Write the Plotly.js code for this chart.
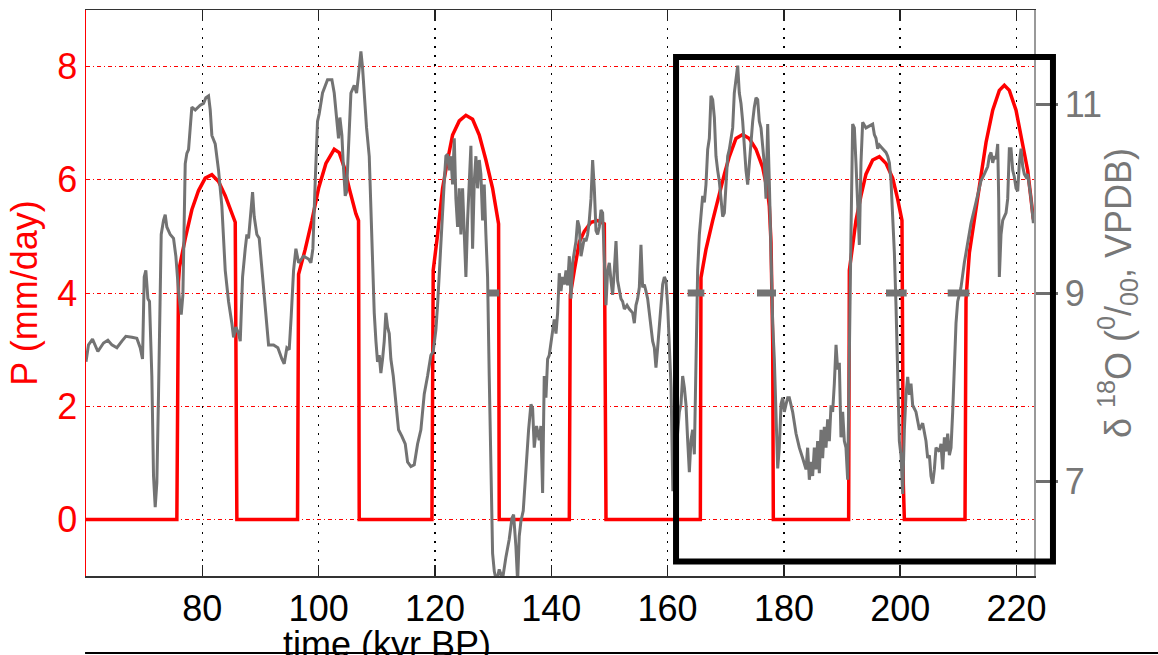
<!DOCTYPE html>
<html>
<head>
<meta charset="utf-8">
<script src="https://cdn.plot.ly/plotly-3.0.1.min.js"></script>
<style>html,body{margin:0;padding:0;background:#fff;}#chart{width:1158px;height:655px;}</style>
</head>
<body>
<div id="chart"></div>
<script>
// ---- tick values ----
const xTickVals = [80, 100, 120, 140, 160, 180, 200, 220];
const pTickVals = [0, 2, 4, 6, 8];
const dTickVals = [7, 9, 11];

// ---- precipitation P (mm/day), red, left axis ----
const pTime = [60, 75.62, 75.9, 76.08, 77.06, 78.2, 79.35, 80.5, 81.64, 82.79, 83.94, 85.08, 85.66, 85.94,
  96.37, 96.55, 97.69, 98.84, 99.99, 101.25, 102.68, 103.54, 104.4, 105.26, 106.4, 106.86, 106.98,
  119.48, 119.7, 120.45, 121.31, 122.17, 123.03, 124.18, 125.32, 126.47, 127.62, 128.76, 129.91, 130.94, 131.05,
  143.10, 143.27, 143.96, 144.82, 145.68, 146.83, 147.97, 149.12, 149.41,
  165.63, 165.74, 166.60, 167.75, 168.90, 169.76, 170.61, 171.76, 172.91, 174.05, 175.2, 176.35, 177.21, 177.49, 177.78, 178.07, 178.18,
  191.13, 191.25, 191.82, 192.39, 193.25, 194.11, 195.26, 196.41, 197.55, 198.70, 199.56, 200.13, 200.30, 200.53, 200.71,
  211.14, 211.31, 211.89, 212.75, 213.6, 214.75, 215.9, 217.04, 217.9, 218.76, 219.91, 221.06, 221.92, 222.49, 222.89];
const pValue = [0, 0, 4.2, 4.46, 4.96, 5.47, 5.81, 6.03, 6.09, 5.97, 5.72, 5.40, 5.25, 0,
  0, 4.33, 4.77, 5.28, 5.85, 6.29, 6.54, 6.48, 6.22, 5.85, 5.40, 5.28, 0,
  0, 4.40, 5.03, 5.85, 6.35, 6.79, 7.04, 7.14, 7.07, 6.79, 6.35, 5.85, 5.22, 0,
  0, 3.96, 4.40, 4.90, 5.09, 5.25, 5.28, 5.22, 0,
  0, 4.27, 4.77, 5.28, 5.78, 6.10, 6.41, 6.73, 6.80, 6.73, 6.54, 6.22, 5.78, 5.53, 4.90, 3.14, 0,
  0, 4.40, 4.90, 5.28, 5.72, 6.10, 6.35, 6.41, 6.29, 6.03, 5.66, 5.34, 5.28, 0.62, 0,
  0, 3.89, 4.71, 5.28, 5.91, 6.66, 7.23, 7.58, 7.67, 7.58, 7.23, 6.66, 6.16, 5.66, 5.3];

// ---- speleothem d18O (per mil, VPDB), grey, right axis ----
const dTime = [60.0, 60.43, 61.12, 62.04, 63.01, 63.76, 64.45, 65.31, 66.17, 66.85, 67.89, 68.74, 69.32, 69.72,
  70.01, 70.29, 70.64, 70.92, 71.32, 71.61, 71.90, 72.18, 72.47, 72.93, 73.33, 73.62, 73.90, 74.48, 75.05, 75.45,
  75.91, 76.37, 76.66, 76.89, 77.06, 77.34, 77.63, 77.92, 78.20, 78.78, 79.64, 80.21, 80.61, 81.07, 81.36, 81.64,
  82.22, 82.79, 83.36, 83.94, 84.51, 85.08, 85.37, 85.77, 86.23, 86.52, 86.92, 87.38, 87.66, 87.95, 88.35, 88.64,
  88.92, 89.38, 89.78, 90.24, 90.81, 91.39, 92.25, 92.99, 93.68, 94.08, 94.54, 94.94, 95.29, 95.69, 96.09, 96.55,
  97.41, 98.27, 98.67, 99.01, 99.41, 99.81,
  100.10, 100.67, 101.53, 102.28, 102.68, 103.08, 103.42, 103.65, 104.0, 104.23, 104.57, 104.80, 105.26, 105.55,
  106.12, 106.52, 106.86, 107.27, 107.55, 107.84, 108.24, 108.70, 108.99, 109.27, 109.56, 109.85, 110.13, 110.42,
  110.70, 110.99, 111.28, 111.56, 111.85, 112.14, 112.42, 112.83, 113.28, 113.74, 114.32, 114.89, 115.29, 115.86,
  116.44, 117.01, 117.58, 118.16, 118.73, 119.30, 119.70, 120.16, 120.45, 120.74, 121.02, 121.31, 121.60, 121.88,
  122.17, 122.46, 122.74, 123.03, 123.32, 123.60, 123.89, 124.18, 124.46, 124.75, 125.04, 125.32, 125.61, 125.90,
  126.18, 126.47, 126.76, 127.04, 127.33, 127.62, 127.90, 128.19, 128.47, 128.76, 129.05, 129.33, 129.62, 129.91,
  130.20, 130.60, 131.05, 131.63, 132.20, 132.77, 133.23, 133.52, 133.92, 134.21, 134.49, 134.78, 135.18, 135.64,
  136.10, 136.50, 136.79, 137.07, 137.47, 137.93, 138.22, 138.51, 138.79, 139.08, 139.37, 139.65, 139.94, 140.23,
  140.51, 140.81, 141.09, 141.38, 141.67, 141.95, 142.24, 142.53, 142.81, 143.10, 143.39, 143.67, 143.96, 144.25,
  144.53, 144.82, 145.11, 145.39, 145.68, 145.97, 146.25, 146.54, 146.83, 147.11, 147.40, 147.69, 147.97, 148.26,
  148.55, 148.83, 149.12, 149.41, 149.69, 149.98, 150.27, 150.55, 150.84, 151.13, 151.41, 151.70, 151.98, 152.27,
  152.56, 153.02, 153.42, 153.99, 154.28, 154.56, 154.85, 155.14, 155.42, 155.71, 156.00, 156.28, 156.57, 156.86,
  157.14, 157.43, 157.72, 158.00, 158.29, 158.58, 158.86, 159.15, 159.44, 159.72, 160.01, 160.30, 160.6, 160.9,
  161.4, 162.02, 162.30, 162.59, 162.88, 163.16, 163.45, 163.74, 164.02, 164.31, 164.60, 164.88, 165.17, 165.46,
  165.74, 166.03, 166.32, 166.60, 166.89, 167.18, 167.46, 167.75, 168.04, 168.32, 168.61, 168.90, 169.18, 169.47,
  169.76, 170.04, 170.33, 170.61, 170.90, 171.19, 171.47, 171.76, 172.05, 172.33, 172.62, 172.91, 173.19, 173.48,
  173.77, 174.05, 174.34, 174.63, 174.91, 175.20, 175.49, 175.77, 176.06, 176.35, 176.63, 176.92, 177.21, 177.49,
  177.78, 178.07, 178.35, 178.64, 178.93, 179.21, 179.50, 179.79, 180.07, 180.36, 180.65,
  180.93, 181.50, 182.08, 182.65, 183.22, 183.80, 184.08, 184.37, 184.66, 184.94, 185.23, 185.52, 185.80, 186.09,
  186.38, 186.66, 186.95, 187.24, 187.52, 187.81, 188.10, 188.38, 188.67, 188.96, 189.24, 189.53, 189.81, 190.10,
  190.39, 190.67, 190.96, 191.25, 191.53, 191.82, 192.11, 192.39, 192.68, 192.97, 193.25, 193.54, 194.11, 194.69,
  195.26, 195.55, 195.83, 196.12, 196.41, 196.98, 197.55, 197.84, 198.13, 198.41, 198.70, 198.99, 199.27, 199.56,
  199.85, 200.13, 200.42, 200.71, 200.99, 201.28, 201.57, 201.85, 202.14, 202.71, 203.29, 203.86, 204.43, 204.72,
  205.01, 205.29, 205.58, 205.87, 206.15, 206.73, 207.01, 207.30, 207.59, 207.87, 208.16, 208.45, 208.73, 209.02,
  209.31, 209.59, 209.88, 210.16, 210.45, 211.02, 211.60, 212.17, 212.75, 213.32, 213.89, 214.46, 215.04, 215.32,
  215.61, 215.90, 216.18, 216.47, 216.76, 216.93, 217.04, 217.33, 217.62, 217.90, 218.19, 218.48, 218.76, 219.05,
  219.34, 219.62, 219.91, 220.20, 220.48, 220.77, 221.06, 221.34, 221.63, 221.92, 222.20, 222.49, 222.89];
const dValue = [8.27, 8.45, 8.51, 8.38, 8.47, 8.50, 8.45, 8.42, 8.49, 8.54, 8.53, 8.52, 8.42, 8.30,
  9.17, 9.24, 8.94, 8.91, 8.12, 7.06, 6.73, 6.99, 7.93, 9.62, 9.77, 9.83, 9.70, 9.62, 9.58, 9.39,
  9.02, 8.77, 8.98, 10.0, 10.37, 10.48, 10.52, 10.75, 10.97, 10.94, 10.99, 11.01, 11.07, 11.09, 10.94, 10.67,
  10.58, 10.30, 9.92, 9.24, 8.91, 8.68, 8.53, 8.64, 8.57, 8.49, 9.17, 9.47, 9.62, 9.58, 9.92, 10.07,
  9.81, 9.62, 9.58, 9.24, 8.79, 8.45, 8.45, 8.42, 8.30, 8.25, 8.42, 8.40, 8.76, 9.24, 9.47, 9.32,
  9.39, 9.36, 9.32, 9.47, 10.18, 10.82,
  10.90, 11.12, 11.26, 11.26, 11.12, 10.86, 10.64, 10.86, 10.67, 10.37, 10.03, 10.07, 10.75, 11.12,
  11.20, 11.12, 11.31, 11.56, 11.39, 11.09, 10.75, 10.45, 9.88, 9.24, 8.79, 8.49, 8.27, 8.34,
  8.15, 8.30, 8.49, 8.79, 8.64, 8.57, 8.30, 8.12, 7.82, 7.55, 7.48, 7.40, 7.21, 7.16,
  7.18, 7.40, 7.55, 7.93, 8.12, 8.34, 8.38, 8.61, 8.87, 9.24, 9.55, 9.81, 10.18, 10.45,
  10.47, 10.30, 10.45, 10.15, 10.64, 10.0, 9.70, 10.11, 9.62, 10.11, 9.55, 9.17, 9.77, 10.26,
  10.56, 9.47, 10.18, 10.45, 10.11, 10.41, 10.26, 9.77, 10.15, 9.62, 9.17, 8.12, 6.99, 6.24,
  6.05, 5.94, 6.07, 5.97, 6.20, 6.39, 6.61, 6.65, 6.31, 5.94, 6.42, 6.58, 6.69, 7.18,
  7.55, 7.82, 7.78, 7.36, 7.59, 7.44, 7.59, 6.88, 8.12, 7.89, 8.30, 8.34, 8.49, 8.64,
  8.72, 8.57, 8.79, 9.21, 9.02, 9.17, 9.09, 9.24, 9.08, 9.39, 8.94, 9.32, 9.43, 9.55,
  9.77, 9.70, 9.39, 9.47, 9.58, 9.55, 9.62, 9.77, 10.0, 10.41, 10.11, 9.66, 9.62, 9.70,
  9.88, 9.85, 9.32, 8.87, 9.24, 9.32, 9.13, 8.98, 9.24, 9.55, 9.13, 9.02, 8.94, 8.91,
  8.83, 8.87, 8.83, 8.79, 8.68, 8.87, 8.94, 9.06, 9.51, 9.06, 9.09, 9.02, 8.94, 8.79,
  8.61, 8.49, 8.42, 8.21, 8.42, 8.64, 8.91, 9.09, 9.17, 9.13, 8.87, 8.49, 8.0, 6.9,
  7.3, 7.74, 7.82, 8.12, 8.00, 7.82, 7.44, 7.10, 7.44, 7.55, 7.29, 8.12, 9.24, 9.62,
  9.88, 10.03, 9.96, 10.15, 10.52, 10.64, 11.09, 11.05, 10.86, 10.45, 10.30, 10.18, 10.0, 9.81,
  9.85, 10.18, 10.45, 10.52, 10.64, 10.75, 11.12, 11.24, 11.41, 11.12, 11.01, 10.82, 10.56, 10.30,
  10.15, 10.37, 10.64, 10.82, 10.97, 11.07, 11.05, 10.82, 10.75, 10.56, 10.37, 10.0, 10.79, 10.18,
  9.24, 8.68, 8.30, 7.74, 7.14, 7.36, 7.82, 7.89, 7.74, 7.82, 7.89,
  7.89, 7.74, 7.51, 7.36, 7.25, 7.13, 7.36, 7.02, 7.21, 7.06, 7.36, 7.13, 7.43, 7.09,
  7.55, 7.25, 7.58, 7.36, 7.66, 7.43, 7.81, 7.74, 8.04, 8.45, 8.19, 8.26, 7.47, 7.74,
  7.43, 7.36, 7.02, 8.11, 9.62, 10.79, 10.75, 10.38, 9.92, 9.51, 10.38, 10.81, 10.75, 10.77,
  10.79, 10.68, 10.64, 10.53, 10.57, 10.53, 10.49, 10.45, 10.38, 10.19, 9.81, 9.43, 8.87, 8.11,
  7.43, 7.28, 6.87, 7.55, 7.92, 8.11, 7.92, 8.04, 7.81, 7.74, 7.55, 7.62, 7.43, 7.25,
  7.28, 7.06, 6.98, 7.13, 7.36, 7.32, 7.40, 7.13, 7.47, 7.32, 7.51, 7.28, 7.36, 7.74,
  8.30, 8.68, 8.91, 8.98, 9.06, 9.32, 9.55, 9.74, 9.89, 10.04, 10.19, 10.26, 10.34, 10.45,
  10.49, 10.38, 10.45, 10.42, 10.58, 10.0, 9.17, 9.62, 9.77, 9.81, 9.85, 10.0, 10.53, 10.53,
  10.30, 10.23, 10.11, 10.08, 10.38, 10.53, 10.34, 10.26, 10.23, 10.26, 10.15, 10.0, 9.74];

// ---- short grey bars at the 9 per-mil level ----
const barStart = [129.05, 163.45, 175.37, 197.55, 208.16];
const barEnd   = [131.05, 166.32, 178.64, 201.11, 211.89];
const barLevel = [9, 9, 9, 9, 9];

const barX = [], barY = [];
barStart.forEach((s, i) => { barX.push(s, barEnd[i], null); barY.push(barLevel[i], barLevel[i], null); });

const FONT = 'Liberation Sans, Arial, Helvetica, sans-serif';
const GREY = '#737373';

const traces = [
  {x: pTime, y: pValue, type: 'scatter', mode: 'lines', yaxis: 'y',
   line: {color: '#ff0000', width: 3.5}, hoverinfo: 'skip'},
  {x: dTime, y: dValue, type: 'scatter', mode: 'lines', yaxis: 'y2',
   line: {color: GREY, width: 3}, hoverinfo: 'skip'},
  {x: barX, y: barY, type: 'scatter', mode: 'lines', yaxis: 'y2', connectgaps: false,
   line: {color: GREY, width: 7}, hoverinfo: 'skip'}
];

const layout = {
  width: 1158, height: 655,
  margin: {l: 86, r: 124, t: 10, b: 79, pad: 0},
  paper_bgcolor: '#ffffff', plot_bgcolor: '#ffffff',
  showlegend: false,
  font: {family: FONT, size: 36, color: '#000'},
  xaxis: {
    range: [60, 223], tickvals: xTickVals, ticks: 'inside', ticklen: 11, tickwidth: 1.5, tickcolor: '#222',
    showline: true, linecolor: '#333', linewidth: 1.5, mirror: 'ticks',
    showgrid: true, gridcolor: '#000', griddash: '2px,7px', gridwidth: 1.5, zeroline: false,
    tickfont: {family: FONT, size: 36, color: '#000'}
  },
  yaxis: {
    range: [-1, 9], tickvals: pTickVals, ticks: '', showline: true, linecolor: '#ff0000', linewidth: 1.5,
    showgrid: true, gridcolor: '#ff0000', griddash: '4px,3px,1px,3px', gridwidth: 1, zeroline: false,
    tickfont: {family: FONT, size: 36, color: '#ff0000'},
    title: {text: 'P (mm/day)', font: {family: FONT, size: 36, color: '#ff0000'}, standoff: 8}
  },
  yaxis2: {
    overlaying: 'y', side: 'right', range: [6, 12], tickvals: dTickVals,
    ticks: 'outside', ticklen: 22, tickwidth: 3, tickcolor: '#6e6e6e',
    showline: true, linecolor: '#999', linewidth: 1.5, showgrid: false, zeroline: false,
    tickfont: {family: FONT, size: 36, color: '#777777'},
    title: {text: 'δ <sup>18</sup>O (<sup>0</sup>/<sub>00</sub>, VPDB)', font: {family: FONT, size: 36, color: '#777777'}, standoff: 4}
  },
  shapes: [
    {type: 'rect', xref: 'paper', yref: 'paper', x0: 0.6224, x1: 1.020, y0: 0.0256, y1: 0.917,
     line: {color: '#000', width: 6}, fillcolor: 'rgba(0,0,0,0)', layer: 'above'},
    {type: 'line', xref: 'paper', yref: 'paper', x0: -0.001, x1: 1.2, y0: -0.136, y1: -0.136,
     line: {color: '#000', width: 2}}
  ],
  annotations: [
    {text: 'time (kyr BP)', xref: 'paper', yref: 'paper', x: 0.3175, y: -0.082, xanchor: 'center', yanchor: 'top',
     showarrow: false, font: {family: FONT, size: 36, color: '#000'}}
  ]
};

Plotly.newPlot('chart', traces, layout, {staticPlot: true, displayModeBar: false});
</script>
</body>
</html>
